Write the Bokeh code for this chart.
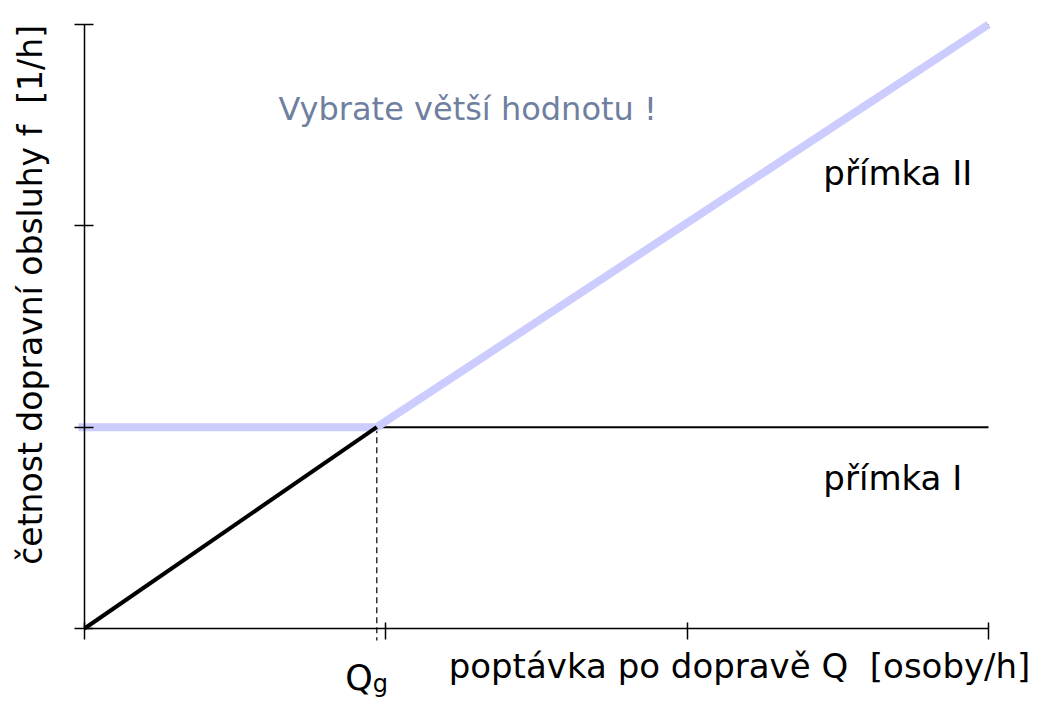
from bokeh.plotting import figure
from bokeh.models import Range1d, FixedTicker, Label, LinearAxis
from bokeh.embed import file_html
from bokeh.resources import INLINE
import math

# ---- data ----
Q_g = 0.97          # boundary demand
f_min = 1.0         # minimal frequency (přímka I)
x_ticks = [0, 1, 2, 3]
y_ticks = [0, 1, 2, 3]

line_I_Q = [0.0, 3.0]
line_I_f = [1.0, 1.0]

line_II_low_Q = [0.0, 0.97]
line_II_low_f = [0.0, 1.0]
line_II_high_Q = [0.97, 3.0]
line_II_high_f = [1.0, 3.0]

choice_Q = [-0.02, 0.97, 3.0]
choice_f = [1.0, 1.0, 3.0]

guide_Q = [0.97, 0.97]
guide_f = [1.0, -0.06]

FONT = "DejaVu Sans"
NB = "\u00a0"

p = figure(frame_width=1036, frame_height=697,
           min_border_left=0, min_border_right=2,
           min_border_top=10, min_border_bottom=0,
           x_range=Range1d(-0.2788, 3.1593), y_range=Range1d(-0.3924, 3.0696),
           x_axis_location=None, y_axis_location=None,
           output_backend="svg", toolbar_location=None)
p.outline_line_color = None
p.grid.visible = False
p.background_fill_color = "white"
p.border_fill_color = "white"

xax = LinearAxis()
yax = LinearAxis()
p.add_layout(xax, "above")
p.add_layout(yax, "right")

for ax, ticks, tin, tout in ((xax, x_ticks, 11, 6), (yax, y_ticks, 10, 9)):
    ax.ticker = FixedTicker(ticks=ticks)
    ax.fixed_location = 0
    ax.bounds = (0, 3)
    ax.axis_line_width = 1.5
    ax.axis_line_color = "black"
    ax.major_tick_line_width = 1.5
    ax.major_tick_line_color = "black"
    ax.major_tick_in = tin
    ax.major_tick_out = tout
    ax.minor_tick_line_color = None
    ax.major_label_overrides = {t: "" for t in ticks}
    ax.major_label_text_font_size = "0px"
    ax.major_label_standoff = 0

# lines
p.line(line_I_Q, line_I_f, line_color="black", line_width=2)
p.line(guide_Q, guide_f, line_color="black", line_width=1.2, line_dash="6 4")
p.line(line_II_high_Q, line_II_high_f, line_color="black", line_width=1.2)
p.line(choice_Q, choice_f, line_color="#ccccff", line_width=8)
p.line(line_II_low_Q, line_II_low_f, line_color="black", line_width=4)

def lab(x, y, text, size, color="black", **kw):
    kw.setdefault("text_baseline", "alphabetic")
    p.add_layout(Label(x=x, y=y, text=text, text_font=FONT, text_font_size=size,
                       text_color=color, **kw))

lab(0.644, 2.578, "Vybrate větší hodnotu !", "32px", color="#6f7f9f")
lab(2.452, 2.260, "přímka II", "34px")
lab(2.452, 0.750, "přímka I", "34px")
lab(3.139, -0.188, "poptávka po dopravě Q" + NB + " [osoby/h]", "34px", text_align="right")
lab(-0.179, 1.657, "četnost dopravní obsluhy f" + NB + " [1/h]", "33px",
    text_align="center", text_baseline="middle", angle=math.pi / 2)
lab(Q_g, -0.248, "Q", "35px", text_align="right", x_offset=-4)
lab(Q_g, -0.278, "g", "24px", text_align="left", x_offset=-4)

open("out.html", "w").write(file_html(p, INLINE))
